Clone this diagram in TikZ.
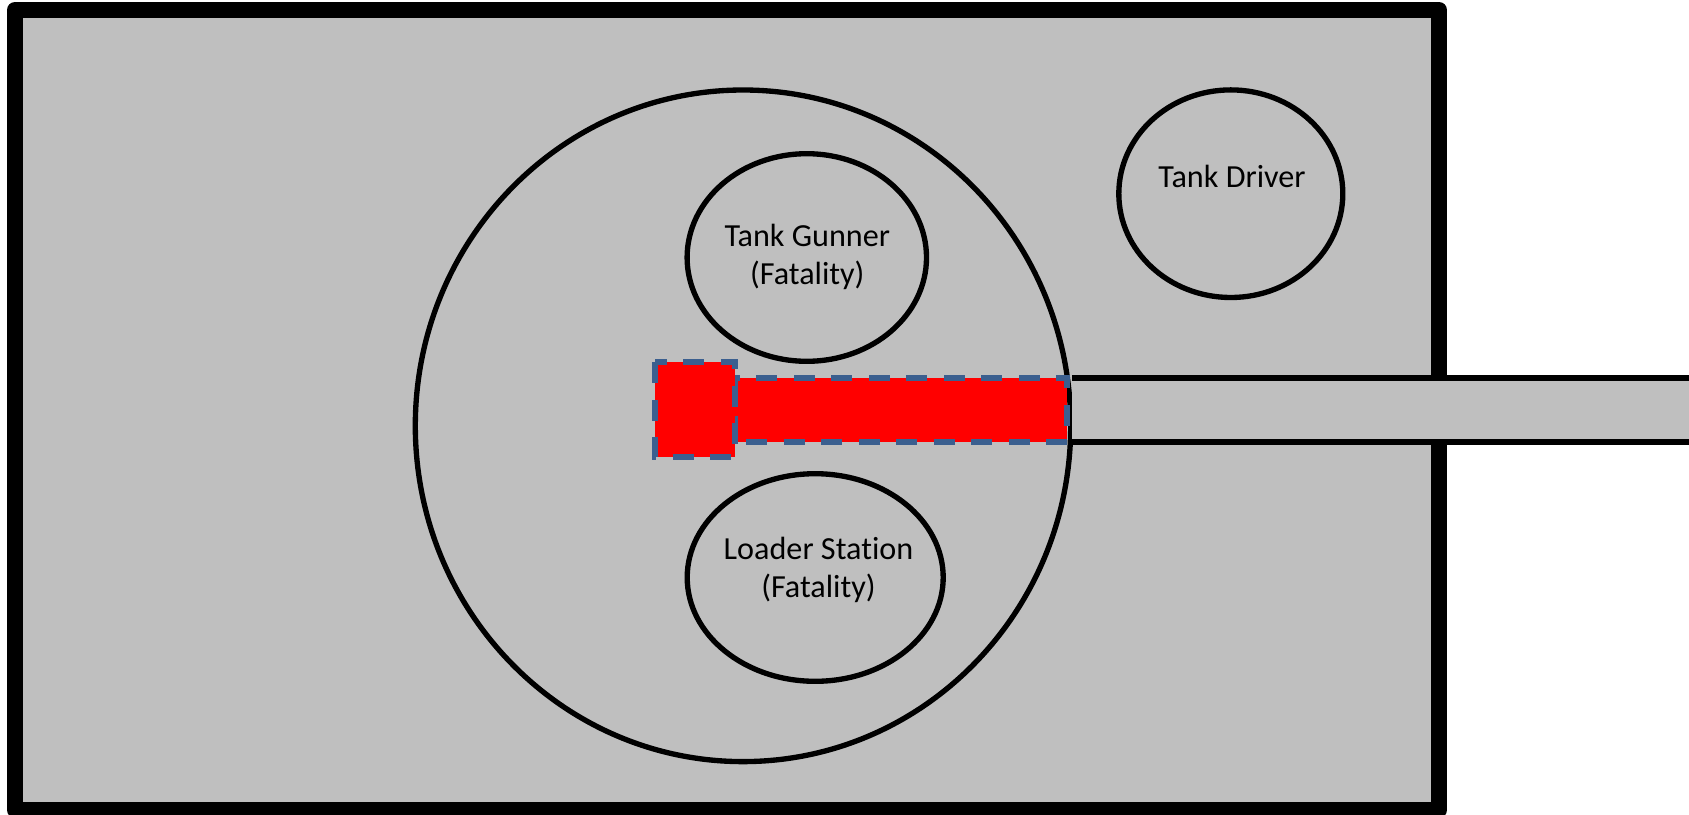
\documentclass[tikz,border=0pt]{standalone}
\usepackage{fontspec}
\setmainfont[Ligatures=NoCommon]{Carlito}
\definecolor{tankgray}{HTML}{BFBFBF}
\definecolor{dashblue}{HTML}{3B5F8F}
\tikzset{
  px/.style={x=0.6pt,y=-0.6pt},
  crew/.style={draw=black,line width=3.2pt,fill=none},
  hot/.style={fill=red,draw=dashblue,line width=3.6pt,dash pattern=on 12.6pt off 9.9pt},
  lbl/.style={font=\fontsize{19.3pt}{22.4pt}\selectfont,align=center,text=black,inner sep=0pt}
}
\begin{document}
\begin{tikzpicture}[px]
\useasboundingbox (0,0) rectangle (1689,814);
\fill[white] (0,0) rectangle (1689,814);
\draw[fill=tankgray,draw=black,line width=9.6pt,line join=round] (15,10) rectangle (1439,810);
\draw[crew] (743,425.8) ellipse (327.7 and 335.8);
\draw[fill=tankgray,draw=none] (1072,378) rectangle (1689,442);
\draw[black,line width=3.2pt] (1072,378) -- (1689,378) (1072,442) -- (1689,442);
\draw[crew] (806.8,257.5) ellipse (119.7 and 103.8);
\draw[crew] (815.2,577.5) ellipse (128 and 103.8);
\draw[crew] (1230.8,193.7) ellipse (112 and 103.8);
\draw[hot] (735,378) rectangle (1067,442);
\draw[hot] (655,362) rectangle (734.5,457);
\node[lbl] (gunner) at (807.3,257) {Tank Gunner\\(Fatality)};
\node[lbl] (loader) at (818.5,570) {Loader Station\\(Fatality)};
\node[lbl] (driver) at (1232,176) {Tank Driver};
\end{tikzpicture}
\end{document}
